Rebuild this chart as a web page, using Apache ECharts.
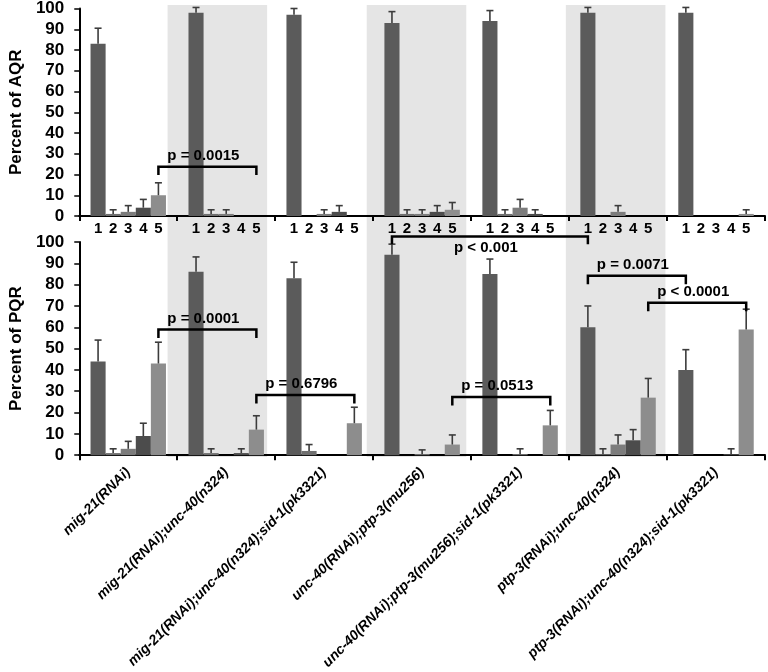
<!DOCTYPE html>
<html>
<head>
<meta charset="utf-8">
<script src="https://cdn.jsdelivr.net/npm/echarts@6/dist/echarts.min.js"></script>
<style>
html,body{margin:0;padding:0;background:#fff;}
#chart{width:768px;height:672px;}
</style>
</head>
<body>
<div id="chart"></div>
<script>
// ---- data ----
const groups = [
  'mig-21(RNAi)',
  'mig-21(RNAi);unc-40(n324)',
  'mig-21(RNAi);unc-40(n324);sid-1(pk3321)',
  'unc-40(RNAi);ptp-3(mu256)',
  'unc-40(RNAi);ptp-3(mu256);sid-1(pk3321)',
  'ptp-3(RNAi);unc-40(n324)',
  'ptp-3(RNAi);unc-40(n324);sid-1(pk3321)'
];
const barNames = ['1', '2', '3', '4', '5'];
const yTicks = [0, 10, 20, 30, 40, 50, 60, 70, 80, 90, 100];

// rows = groups, columns = bar classes 1..5
const aqrMeans = [
  [83, 1, 2, 4, 10],
  [98, 1, 1, 0, 0],
  [97, 0, 1, 2, 0],
  [93, 1, 1, 2, 3],
  [94, 1, 4, 1, 0],
  [98, 0, 2, 0, 0],
  [98, 0, 0, 0, 1]
];
const aqrErrors = [
  [7.5, 2, 3, 4, 6],
  [2.5, 2, 2, 0, 0],
  [3, 0, 2, 3, 0],
  [5.5, 2, 2, 3, 3.5],
  [5, 2, 4, 2, 0],
  [2.5, 0, 3, 0, 0],
  [2.5, 0, 0, 0, 2]
];
const pqrMeans = [
  [44, 1, 3, 9, 43],
  [86, 1, 0, 1, 12],
  [83, 2, 0, 0, 15],
  [94, 0, 0.5, 0, 5],
  [85, 0, 0.5, 0, 14],
  [60, 0.5, 5, 7, 27],
  [40, 0, 0, 0.5, 59]
];
const pqrErrors = [
  [10, 2, 3.5, 6, 10],
  [7, 2, 0, 2, 6.5],
  [7.5, 3, 0, 0, 7.5],
  [5, 0, 2, 0, 4.5],
  [7, 0, 2.5, 0, 7],
  [10, 2.5, 4.5, 5, 9],
  [9.5, 0, 0, 2.5, 9.5]
];

// significance brackets: [fromGroup, fromBar, toGroup, toBar, level, drop, side]
const aqrBrackets = [
  [0, 4, 1, 4, 23.7, 4, 1]
];
const aqrBracketLabels = ['p = 0.0015'];
const pqrBrackets = [
  [0, 4, 1, 4, 59, 4, 1],
  [1, 4, 2, 4, 28.2, 4, 1],
  [3, 0, 5, 0, 102.6, 3.6, -1],
  [3, 4, 4, 4, 27.3, 4, 1],
  [5, 0, 6, 0, 84.2, 4, 1],
  [5, 4, 6, 4, 71.5, 4, 1]
];
const pqrBracketLabels = ['p = 0.0001', 'p = 0.6796', 'p < 0.001', 'p = 0.0513', 'p = 0.0071', 'p < 0.0001'];

// ---- style ----
const FONT = "'Liberation Sans', Arial, sans-serif";
const barColors = ['#5b5b5b', '#6f6f6f', '#7c7c7c', '#4c4c4c', '#8d8d8d'];
const GAP = 0.23;

const chart = echarts.init(document.getElementById('chart'), null, {renderer: 'canvas'});

function barSeries(means, axisIdx, withLabel) {
  return barNames.map((name, j) => ({
    type: 'bar',
    name: name,
    xAxisIndex: axisIdx,
    yAxisIndex: axisIdx,
    barGap: '0%',
    barCategoryGap: (GAP * 100) + '%',
    itemStyle: {color: barColors[j]},
    label: withLabel ? {
      show: true, position: 'bottom', distance: 5,
      formatter: name, color: '#000', fontFamily: FONT, fontWeight: 'bold', fontSize: 15
    } : {show: false},
    silent: true,
    animation: false,
    data: means.map(row => row[j]),
    z: 2
  }));
}

function errorSeries(means, errs, axisIdx) {
  const data = [];
  means.forEach((row, g) => row.forEach((m, j) => {
    if (errs[g][j] > 0) data.push([g, j, m, errs[g][j]]);
  }));
  return {
    type: 'custom',
    xAxisIndex: axisIdx,
    yAxisIndex: axisIdx,
    encode: {x: 0, y: 2},
    silent: true,
    animation: false,
    z: 3,
    data: data,
    renderItem: function (params, api) {
      const g = api.value(0), j = api.value(1), m = api.value(2), e = api.value(3);
      const bandW = api.size([1, 0])[0];
      const barW = bandW * (1 - GAP) / 5;
      const cx = api.coord([g, m])[0] + (j - 2) * barW;
      const yb = api.coord([g, m])[1];
      const yt = api.coord([g, m + e])[1];
      const st = {stroke: '#3c3c3c', lineWidth: 1.6};
      return {
        type: 'group',
        children: [
          {type: 'line', shape: {x1: cx, y1: yb, x2: cx, y2: yt}, style: st},
          {type: 'line', shape: {x1: cx - 3.5, y1: yt, x2: cx + 3.5, y2: yt}, style: st}
        ]
      };
    }
  };
}

function bracketSeries(brackets, labels, axisIdx) {
  return {
    type: 'custom',
    xAxisIndex: axisIdx,
    yAxisIndex: axisIdx,
    encode: {x: 0, y: 4},
    silent: true,
    animation: false,
    clip: false,
    z: 4,
    data: brackets,
    renderItem: function (params, api) {
      const g1 = api.value(0), b1 = api.value(1), g2 = api.value(2), b2 = api.value(3);
      const lvl = api.value(4), drop = api.value(5), side = api.value(6);
      const bandW = api.size([1, 0])[0];
      const barW = bandW * (1 - GAP) / 5;
      const x1 = api.coord([g1, lvl])[0] + (b1 - 2) * barW;
      const x2 = api.coord([g2, lvl])[0] + (b2 - 2) * barW;
      const y = api.coord([g1, lvl])[1];
      const yd = api.coord([g1, lvl - drop])[1];
      return {
        type: 'group',
        children: [
          {type: 'polyline', shape: {points: [[x1, yd], [x1, y], [x2, y], [x2, yd]]},
           style: {stroke: '#000', lineWidth: 2.5, fill: null}},
          {type: 'text', x: (x1 + x2) / 2 - 4, y: side > 0 ? y - 11 : y + 11,
           style: {text: labels[params.dataIndex], fill: '#000', font: 'bold 15px ' + FONT,
                   align: 'center', verticalAlign: 'middle'}}
        ]
      };
    }
  };
}

const axisLineStyle = {color: '#000', width: 2};

function valueAxis(gridIdx, name) {
  return {
    type: 'value', gridIndex: gridIdx, min: 0, max: 100, interval: 10,
    name: name, nameLocation: 'middle', nameGap: 52, nameRotate: 90,
    nameTextStyle: {fontFamily: FONT, fontWeight: 'bold', fontSize: 17, color: '#000'},
    axisLine: {show: true, lineStyle: axisLineStyle},
    axisTick: {show: true, length: 5, lineStyle: {color: '#000', width: 1.5}},
    axisLabel: {color: '#000', fontFamily: FONT, fontWeight: 'bold', fontSize: 17, margin: 15,
                formatter: v => yTicks.indexOf(v) >= 0 ? String(v) : ''},
    splitLine: {show: false}
  };
}

const option = {
  backgroundColor: '#fff',
  animation: false,
  grid: [
    {left: 68, right: 3, top: 5, bottom: 215, containLabel: false},
    {left: 68, right: 3, top: 8, height: 208, containLabel: false},
    {left: 68, right: 3, top: 242, height: 215, containLabel: false}
  ],
  xAxis: [
    {type: 'category', gridIndex: 0, data: groups,
     axisLine: {show: false}, axisTick: {show: false, interval: 0},
     axisLabel: {show: false, interval: 0},
     splitLine: {show: false},
     splitArea: {show: true, interval: 0, areaStyle: {color: ['rgba(255,255,255,0)', '#e5e5e5']}}},
    {type: 'category', gridIndex: 1, data: groups,
     axisLine: {show: true, lineStyle: axisLineStyle},
     axisTick: {show: true, interval: 0, length: 5, lineStyle: {color: '#000', width: 2}},
     axisLabel: {show: false, interval: 0}},
    {type: 'category', gridIndex: 2, data: groups,
     axisLine: {show: true, lineStyle: axisLineStyle},
     axisTick: {show: true, interval: 0, length: 5, lineStyle: {color: '#000', width: 2}},
     axisLabel: {show: true, interval: 0, rotate: 45, margin: 15, color: '#000',
                 fontFamily: FONT, fontWeight: 'bold', fontStyle: 'italic', fontSize: 14}}
  ],
  yAxis: [
    {type: 'value', gridIndex: 0, min: 0, max: 100, show: false},
    valueAxis(1, 'Percent of AQR'),
    valueAxis(2, 'Percent of PQR')
  ],
  series: [
    ...barSeries(aqrMeans, 1, true),
    errorSeries(aqrMeans, aqrErrors, 1),
    bracketSeries(aqrBrackets, aqrBracketLabels, 1),
    ...barSeries(pqrMeans, 2, false),
    errorSeries(pqrMeans, pqrErrors, 2),
    bracketSeries(pqrBrackets, pqrBracketLabels, 2)
  ]
};
chart.setOption(option);
</script>
</body>
</html>
